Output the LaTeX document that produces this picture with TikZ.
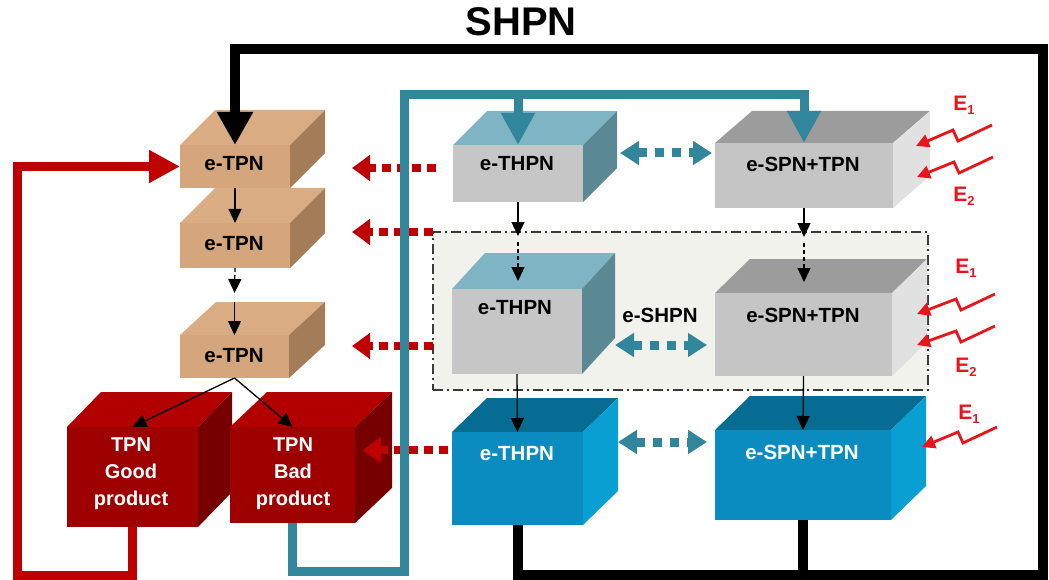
\documentclass[tikz,border=0pt]{standalone}
\usepackage{fontspec}
\setmainfont{Liberation Sans}
\usetikzlibrary{arrows.meta}

% face colours of the boxes
\definecolor{tanF}{HTML}{D5A57B}\definecolor{tanT}{HTML}{D9AC83}\definecolor{tanS}{HTML}{A47C57}
\definecolor{thF}{HTML}{C6C6C6}\definecolor{thT}{HTML}{7FB4C4}\definecolor{thS}{HTML}{5B8993}
\definecolor{spF}{HTML}{C5C5C5}\definecolor{spT}{HTML}{9C9C9C}\definecolor{spS}{HTML}{E1E1E1}
\definecolor{blF}{HTML}{0A8CC1}\definecolor{blT}{HTML}{076C93}\definecolor{blS}{HTML}{0A9FD2}
\definecolor{rdF}{HTML}{9E0000}\definecolor{rdT}{HTML}{B20000}\definecolor{rdS}{HTML}{760000}
% line colours
\definecolor{tealline}{HTML}{32869C}
\definecolor{redline}{HTML}{C00000}
\definecolor{zapred}{HTML}{E8161C}
\definecolor{panel}{HTML}{F2F2EC}
\definecolor{panelrule}{HTML}{3A3A3A}

% a box drawn as a front face node with a top and a right side face
% #1 name, #2 left, #3 top, #4 right, #5 bottom, #6 depth x, #7 depth y, #8 palette
\newcommand\cubebox[8]{%
  \fill[#8 top] (#2,#3) -- ++(#6,-#7) -- (#4+#6,#3-#7) -- (#4,#3) -- cycle;
  \fill[#8 side] (#4,#3) -- (#4+#6,#3-#7) -- (#4+#6,#5-#7) -- (#4,#5) -- cycle;
  \node[#8 front, minimum width=#4-#2, minimum height=#5-#3] (#1) at ({(#2+#4)/2},{(#3+#5)/2}) {};
}
% lightning-shaped arrow from #1 to #2
\newcommand\drawzap[2]{\draw[zapline] (#1) -- ++(-34,16) -- ++(-5,-11) -- (#2);}

\begin{document}
\begin{tikzpicture}[x=1pt,y=-1pt,
  facebase/.style={draw=none,inner sep=0pt,outer sep=0pt},
  tan front/.style={facebase,fill=tanF}, tan top/.style={fill=tanT}, tan side/.style={fill=tanS},
  th front/.style={facebase,fill=thF}, th top/.style={fill=thT}, th side/.style={fill=thS},
  sp front/.style={facebase,fill=spF}, sp top/.style={fill=spT}, sp side/.style={fill=spS},
  bl front/.style={facebase,fill=blF}, bl top/.style={fill=blT}, bl side/.style={fill=blS},
  rd front/.style={facebase,fill=rdF}, rd top/.style={fill=rdT}, rd side/.style={fill=rdS},
  lbl/.style={font=\fontsize{20.5}{25}\selectfont\bfseries,text=black,inner sep=0pt},
  wlbl/.style={lbl,text=white},
  elbl/.style={font=\fontsize{21}{21}\selectfont\bfseries,text=zapred,inner sep=0pt},
  panelbox/.style={draw=panelrule,fill=panel,line width=1.3pt,
    dash pattern=on 10pt off 4pt on 2pt off 4pt,inner sep=0pt},
  blackbus/.style={draw=black,line width=10pt},
  tealbus/.style={draw=tealline,line width=9pt},
  redbus/.style={draw=redline,line width=9pt},
  thinarr/.style={draw=black,line width=1.3pt,-{Triangle[width=13pt,length=14pt]}},
  thindash/.style={thinarr,dash pattern=on 4pt off 3pt},
  dotred/.style={draw=redline,line width=8pt,dash pattern=on 9pt off 6pt,
    -{Triangle[width=25pt,length=18pt]}},
  dottealboth/.style={draw=tealline,line width=9pt,dash pattern=on 9pt off 8pt,
    {Triangle[width=23pt,length=19pt]}-{Triangle[width=23pt,length=19pt]}},
  zapline/.style={draw=zapred,line width=2.8pt,line join=miter,
    -{Triangle[width=13pt,length=13pt]}}
]
\useasboundingbox (0,0) rectangle (1049,580);

% title
\node[font=\fontsize{40}{40}\selectfont\bfseries,inner sep=0pt] (title) at (521,22) {SHPN};

% shaded e-SHPN panel
\node[panelbox, minimum width=495, minimum height=158] (panelarea) at (680.5,311) {};

% e-TPN column
\cubebox{tpnA}{180}{145}{290}{188}{35}{35}{tan}
\cubebox{tpnB}{180}{223}{290}{268}{35}{35}{tan}
\cubebox{tpnC}{180}{335}{289}{378}{36}{33}{tan}
\node[lbl] (tpnA-t) at (234,164) {e-TPN};
\node[lbl] (tpnB-t) at (234,244) {e-TPN};
\node[lbl] (tpnC-t) at (234,356) {e-TPN};

% product boxes
\cubebox{good}{67}{427}{198}{527}{34}{35}{rd}
\cubebox{bad}{230}{427}{355}{523}{37}{35}{rd}
\node[wlbl,align=center,font=\fontsize{20}{27}\selectfont\bfseries] (good-t) at (131,474) {TPN\\Good\\product};
\node[wlbl,align=center,font=\fontsize{20}{27}\selectfont\bfseries] (bad-t) at (293,474) {TPN\\Bad\\product};

% hybrid and stochastic boxes
\cubebox{thA}{453}{145}{583}{202}{34}{34}{th}
\cubebox{spA}{715}{143}{893}{208}{37}{32}{sp}
\cubebox{thB}{452}{289}{582}{374}{33}{36}{th}
\cubebox{spB}{715}{293}{892}{376}{35}{34}{sp}
\cubebox{thC}{452}{432}{583}{525}{35}{34}{bl}
\cubebox{spC}{715}{430}{891}{520}{35}{34}{bl}
\node[lbl] (thA-t) at (517,164) {e-THPN};
\node[lbl] (spA-t) at (803,164) {e-SPN+TPN};
\node[lbl] (thB-t) at (515,308) {e-THPN};
\node[lbl] (spB-t) at (803,315) {e-SPN+TPN};
\node[wlbl] (thC-t) at (517,454) {e-THPN};
\node[wlbl] (spC-t) at (802,452) {e-SPN+TPN};
\node[lbl] (shpn-t) at (660,315) {e-SHPN};

% dotted red feedback arrows towards the e-TPN column
\coordinate (r1s) at (436,168); \coordinate (r1e) at (352,168);
\coordinate (r2s) at (433,232); \coordinate (r2e) at (352,232);
\coordinate (r3s) at (433,346); \coordinate (r3e) at (352,346);
\coordinate (r4s) at (448,450); \coordinate (r4e) at (363,450);
\draw[dotred] (r1s) -- (r1e);
\draw[dotred] (r2s) -- (r2e);
\draw[dotred] (r3s) -- (r3e);
\draw[dotred] (r4s) -- (r4e);

% black bus
\coordinate (kB) at (1043,575);
\coordinate (kT) at (1043,49);
\draw[blackbus,-{Triangle[width=34pt,length=33pt]}] (thC.south) |- (kB) -- (kT) -| (tpnA.north);
\draw[blackbus] (spC.south) -- (spC.south |- kB);

% red return line
\coordinate (rB) at (17,575);
\draw[redbus,-{Triangle[width=31pt,length=31pt]}] (good.south) |- (rB) |- (tpnA.west);

% teal line
\coordinate (tB) at (404,571);
\coordinate (tT) at (404,95);
\draw[tealbus,-{Triangle[width=32pt,length=32pt]}] (bad.south) |- (tB) -- (tT) -| (spA.north);
\draw[tealbus,-{Triangle[width=32pt,length=32pt]}] (thA.north |- tT) -- (thA.north);

% flow within the e-TPN column
\coordinate (fBm) at (234.5,293);
\coordinate (fCm) at (234.5,302);
\draw[thinarr] (tpnA.south) -- (tpnB.north);
\draw[thindash] (tpnB.south) -- (fBm);
\draw[thinarr] (fCm) -- (tpnC.north);
\draw[thinarr] (tpnC.south) -- (good.north);
\draw[thinarr] (tpnC.south) -- (bad.north);

% flow between the hybrid levels
\coordinate (hA1) at (518,236); \coordinate (hA2) at (518,242); \coordinate (hA3) at (518,281);
\coordinate (sA1) at (804,237); \coordinate (sA2) at (804,243); \coordinate (sA3) at (804,282);
\draw[thinarr] (thA.south) -- (hA1);
\draw[thindash] (hA2) -- (hA3);
\draw[thinarr] (thB.south) -- (thC.north);
\draw[thinarr] (spA.south) -- (sA1);
\draw[thindash] (sA2) -- (sA3);
\draw[thinarr] (spB.south) -- (spC.north);

% two-way links
\coordinate (lA1) at (620,153); \coordinate (lA2) at (712,153);
\coordinate (lB1) at (615,345); \coordinate (lB2) at (707,345);
\coordinate (lC1) at (618,442); \coordinate (lC2) at (707,442);
\draw[dottealboth] (lA1) -- (lA2);
\draw[dottealboth] (lB1) -- (lB2);
\draw[dottealboth] (lC1) -- (lC2);

% external events
\coordinate (zA1s) at (992,125); \coordinate (zA1e) at (916,146);
\coordinate (zA2s) at (993,157); \coordinate (zA2e) at (917,177);
\coordinate (zB1s) at (995,294); \coordinate (zB1e) at (917,314);
\coordinate (zB2s) at (995,326); \coordinate (zB2e) at (917,345);
\coordinate (zC1s) at (997,427); \coordinate (zC1e) at (922,447);
\drawzap{zA1s}{zA1e}
\drawzap{zA2s}{zA2e}
\drawzap{zB1s}{zB1e}
\drawzap{zB2s}{zB2e}
\drawzap{zC1s}{zC1e}
\node[elbl] (eA1) at (964,105) {E\raisebox{-0.35ex}{\fontsize{13}{13}\selectfont 1}};
\node[elbl] (eA2) at (964,196) {E\raisebox{-0.35ex}{\fontsize{13}{13}\selectfont 2}};
\node[elbl] (eB1) at (966,268) {E\raisebox{-0.35ex}{\fontsize{13}{13}\selectfont 1}};
\node[elbl] (eB2) at (966,367) {E\raisebox{-0.35ex}{\fontsize{13}{13}\selectfont 2}};
\node[elbl] (eC1) at (969,414) {E\raisebox{-0.35ex}{\fontsize{13}{13}\selectfont 1}};
\end{tikzpicture}
\end{document}
